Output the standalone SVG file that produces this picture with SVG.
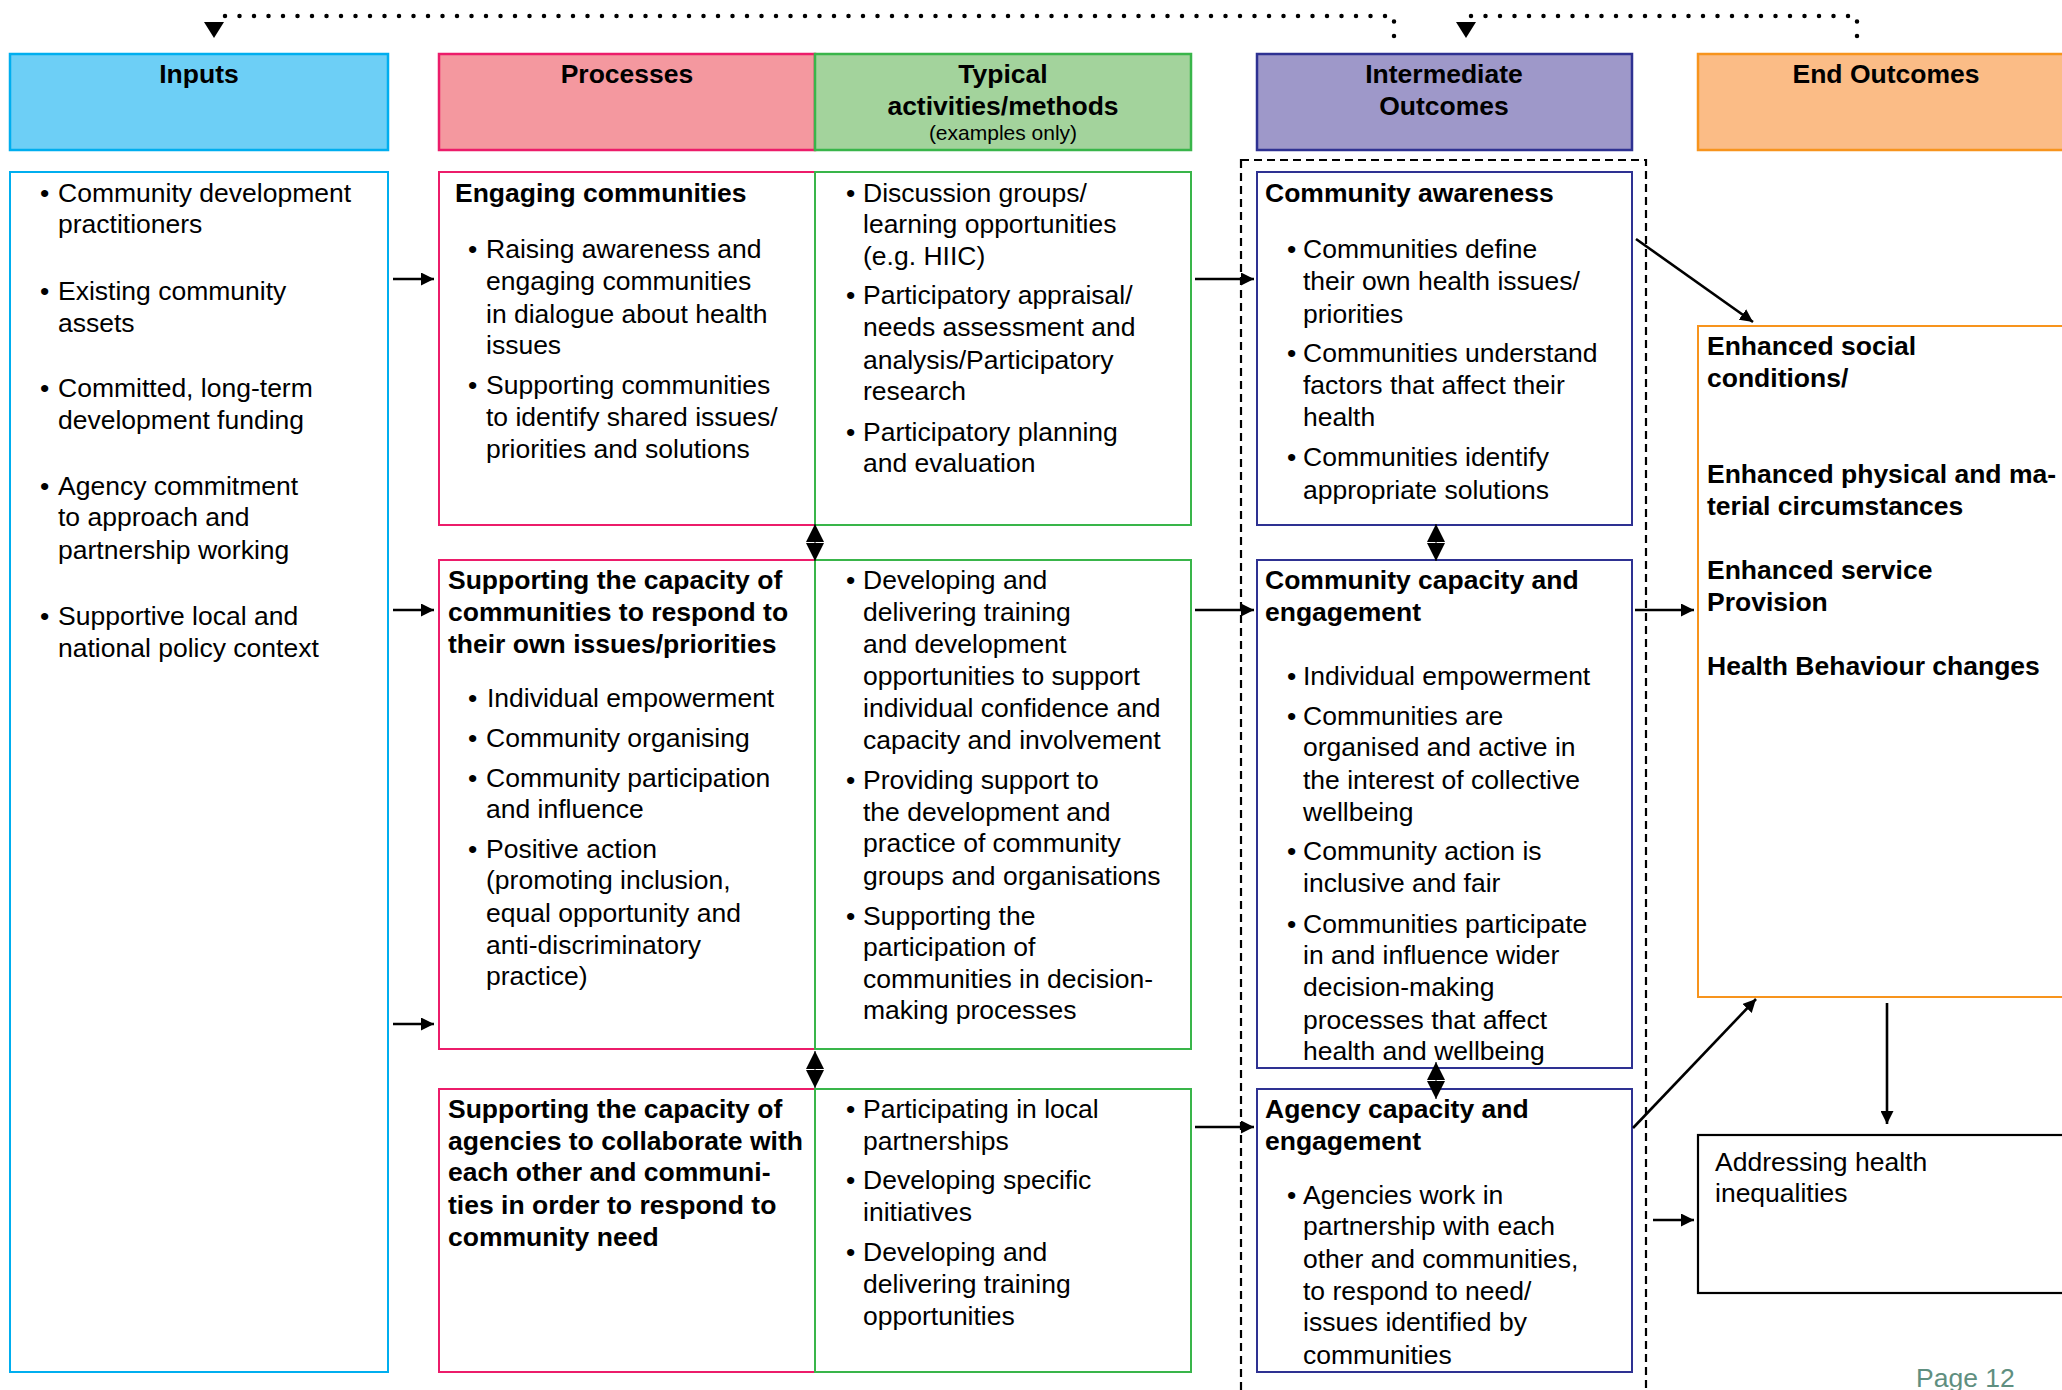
<svg xmlns="http://www.w3.org/2000/svg" width="2062" height="1390" viewBox="0 0 2062 1390">
<defs>
<style>
.t{font-family:"Liberation Sans",Arial,Helvetica,sans-serif;font-size:26.5px;fill:#000}
.b{font-weight:bold}
.c{text-anchor:middle}
.sm{font-size:21px}
.hb{stroke-width:2.5}
.bx{fill:#fff;stroke-width:2}
.in{stroke:#00aeef}
.pr{stroke:#ec1c6a}
.ty{stroke:#39b54a}
.im{stroke:#2e3192}
.eo{stroke:#f7941d}
.ln{fill:none;stroke:#000;stroke-width:2.6}
.dot{fill:none;stroke:#000;stroke-width:4.5;stroke-linecap:round;stroke-dasharray:0 14.5}
.dm{fill:none;stroke:#000;stroke-width:1}
</style>
<marker id="ah" viewBox="0 0 10 10" refX="10" refY="5" markerWidth="13" markerHeight="13" markerUnits="userSpaceOnUse" orient="auto"><path d="M0,0L10,5L0,10z" fill="#000"/></marker>
<marker id="dh" viewBox="0 0 10 10" refX="10" refY="5" markerWidth="18" markerHeight="19" markerUnits="userSpaceOnUse" orient="auto-start-reverse"><path d="M0,0L10,5L0,10z" fill="#000"/></marker>
</defs>
<rect width="2062" height="1390" fill="#fff"/>

<!-- headers -->
<g id="header-inputs">
<rect x="10" y="54" width="378" height="96" fill="#6dcff6" class="hb in"/>
<text class="t b c" x="199" y="83">Inputs</text>
</g>
<g id="header-processes">
<rect x="439" y="54" width="376" height="96" fill="#f4989f" class="hb pr"/>
<text class="t b c" x="627" y="83">Processes</text>
</g>
<g id="header-typical">
<rect x="815" y="54" width="376" height="96" fill="#a3d39c" class="hb ty"/>
<text class="t b c" x="1003" y="83">Typical</text>
<text class="t b c" x="1003" y="115">activities/methods</text>
<text class="t sm c" x="1003" y="140">(examples only)</text>
</g>
<g id="header-intermediate">
<rect x="1257" y="54" width="375" height="96" fill="#9e98c9" class="hb im"/>
<text class="t b c" x="1444" y="83">Intermediate</text>
<text class="t b c" x="1444" y="115">Outcomes</text>
</g>
<g id="header-end">
<rect x="1698" y="54" width="376" height="96" fill="#fbbc86" class="hb eo"/>
<text class="t b c" x="1886" y="83">End Outcomes</text>
</g>

<!-- dashed grouping frame -->
<g id="intermediate-frame">
<rect x="1241" y="160" width="405" height="1250" fill="none" stroke="#000" stroke-width="2.2" stroke-dasharray="8 5"/>
</g>

<!-- Inputs -->
<g id="node-inputs">
<rect x="10" y="172" width="378" height="1200" class="bx in"/>
<g class="t">
<text x="40" y="201.5">•</text>
<text x="58" y="201.5">Community development</text>
<text x="58" y="233">practitioners</text>
<text x="40" y="300">•</text>
<text x="58" y="300">Existing community</text>
<text x="58" y="331.7">assets</text>
<text x="40" y="397.4">•</text>
<text x="58" y="397.4">Committed, long-term</text>
<text x="58" y="429">development funding</text>
<text x="40" y="494.7">•</text>
<text x="58" y="494.7">Agency commitment</text>
<text x="58" y="526.3">to approach and</text>
<text x="58" y="559">partnership working</text>
<text x="40" y="625">•</text>
<text x="58" y="625">Supportive local and</text>
<text x="58" y="656.5">national policy context</text>
</g>
</g>

<!-- Processes 1 -->
<g id="node-proc1">
<rect x="439" y="172" width="376" height="353" class="bx pr"/>
<g class="t">
<text class="b" x="455" y="201.5">Engaging communities</text>
<text x="468" y="258">•</text>
<text x="486" y="258">Raising awareness and</text>
<text x="486" y="289.6">engaging communities</text>
<text x="486" y="322.5">in dialogue about health</text>
<text x="486" y="354">issues</text>
<text x="468" y="393.5">•</text>
<text x="486" y="393.5">Supporting communities</text>
<text x="486" y="426.4">to identify shared issues/</text>
<text x="486" y="458">priorities and solutions</text>
</g>
</g>

<!-- Typical 1 -->
<g id="node-typ1">
<rect x="815" y="172" width="376" height="353" class="bx ty"/>
<g class="t">
<text x="846" y="201.5">•</text>
<text x="863" y="201.5">Discussion groups/</text>
<text x="863" y="233">learning opportunities</text>
<text x="863" y="264.6">(e.g. HIIC)</text>
<text x="846" y="304">•</text>
<text x="863" y="304">Participatory appraisal/</text>
<text x="863" y="335.6">needs assessment and</text>
<text x="863" y="368.5">analysis/Participatory</text>
<text x="863" y="400">research</text>
<text x="846" y="441">•</text>
<text x="863" y="441">Participatory planning</text>
<text x="863" y="472.4">and evaluation</text>
</g>
</g>

<!-- Intermediate 1 -->
<g id="node-int1">
<rect x="1257" y="172" width="375" height="353" class="bx im"/>
<g class="t">
<text class="b" x="1265" y="201.5">Community awareness</text>
<text x="1287" y="258">•</text>
<text x="1303" y="258">Communities define</text>
<text x="1303" y="289.6">their own health issues/</text>
<text x="1303" y="322.5">priorities</text>
<text x="1287" y="362">•</text>
<text x="1303" y="362">Communities understand</text>
<text x="1303" y="393.5">factors that affect their</text>
<text x="1303" y="426.4">health</text>
<text x="1287" y="465.8">•</text>
<text x="1303" y="465.8">Communities identify</text>
<text x="1303" y="498.7">appropriate solutions</text>
</g>
</g>

<!-- Processes 2 -->
<g id="node-proc2">
<rect x="439" y="560" width="376" height="489" class="bx pr"/>
<g class="t">
<text class="b" x="448" y="589.4">Supporting the capacity of</text>
<text class="b" x="448" y="621">communities to respond to</text>
<text class="b" x="448" y="652.5">their own issues/priorities</text>
<text x="468" y="706.5">•</text>
<text x="487" y="706.5">Individual empowerment</text>
<text x="468" y="747">•</text>
<text x="486" y="747">Community organising</text>
<text x="468" y="786.7">•</text>
<text x="486" y="786.7">Community participation</text>
<text x="486" y="818">and influence</text>
<text x="468" y="857.7">•</text>
<text x="486" y="857.7">Positive action</text>
<text x="486" y="889">(promoting inclusion,</text>
<text x="486" y="922">equal opportunity and</text>
<text x="486" y="953.7">anti-discriminatory</text>
<text x="486" y="985">practice)</text>
</g>
</g>

<!-- Typical 2 -->
<g id="node-typ2">
<rect x="815" y="560" width="376" height="489" class="bx ty"/>
<g class="t">
<text x="846" y="589.4">•</text>
<text x="863" y="589.4">Developing and</text>
<text x="863" y="621">delivering training</text>
<text x="863" y="652.5">and development</text>
<text x="863" y="685.4">opportunities to support</text>
<text x="863" y="717">individual confidence and</text>
<text x="863" y="748.5">capacity and involvement</text>
<text x="846" y="789.3">•</text>
<text x="863" y="789.3">Providing support to</text>
<text x="863" y="821">the development and</text>
<text x="863" y="852.4">practice of community</text>
<text x="863" y="885.3">groups and organisations</text>
<text x="846" y="924.7">•</text>
<text x="863" y="924.7">Supporting the</text>
<text x="863" y="956.3">participation of</text>
<text x="863" y="988">communities in decision-</text>
<text x="863" y="1019.4">making processes</text>
</g>
</g>

<!-- Intermediate 2 -->
<g id="node-int2">
<rect x="1257" y="560" width="375" height="508" class="bx im"/>
<g class="t">
<text class="b" x="1265" y="589.4">Community capacity and</text>
<text class="b" x="1265" y="621">engagement</text>
<text x="1287" y="685.4">•</text>
<text x="1303" y="685.4">Individual empowerment</text>
<text x="1287" y="725">•</text>
<text x="1303" y="725">Communities are</text>
<text x="1303" y="756.4">organised and active in</text>
<text x="1303" y="789.3">the interest of collective</text>
<text x="1303" y="821">wellbeing</text>
<text x="1287" y="860.3">•</text>
<text x="1303" y="860.3">Community action is</text>
<text x="1303" y="892">inclusive and fair</text>
<text x="1287" y="932.6">•</text>
<text x="1303" y="932.6">Communities participate</text>
<text x="1303" y="964.2">in and influence wider</text>
<text x="1303" y="995.8">decision-making</text>
<text x="1303" y="1028.6">processes that affect</text>
<text x="1303" y="1060.2">health and wellbeing</text>
</g>
</g>

<!-- Processes 3 -->
<g id="node-proc3">
<rect x="439" y="1089" width="376" height="283" class="bx pr"/>
<g class="t b">
<text x="448" y="1118">Supporting the capacity of</text>
<text x="448" y="1149.6">agencies to collaborate with</text>
<text x="448" y="1181">each other and communi-</text>
<text x="448" y="1214">ties in order to respond to</text>
<text x="448" y="1245.6">community need</text>
</g>
</g>

<!-- Typical 3 -->
<g id="node-typ3">
<rect x="815" y="1089" width="376" height="283" class="bx ty"/>
<g class="t">
<text x="846" y="1118">•</text>
<text x="863" y="1118">Participating in local</text>
<text x="863" y="1149.6">partnerships</text>
<text x="846" y="1189">•</text>
<text x="863" y="1189">Developing specific</text>
<text x="863" y="1220.6">initiatives</text>
<text x="846" y="1261.4">•</text>
<text x="863" y="1261.4">Developing and</text>
<text x="863" y="1293">delivering training</text>
<text x="863" y="1324.5">opportunities</text>
</g>
</g>

<!-- Intermediate 3 -->
<g id="node-int3">
<rect x="1257" y="1089" width="375" height="283" class="bx im"/>
<g class="t">
<text class="b" x="1265" y="1118">Agency capacity and</text>
<text class="b" x="1265" y="1149.6">engagement</text>
<text x="1287" y="1203.5">•</text>
<text x="1303" y="1203.5">Agencies work in</text>
<text x="1303" y="1235">partnership with each</text>
<text x="1303" y="1268">other and communities,</text>
<text x="1303" y="1299.5">to respond to need/</text>
<text x="1303" y="1331">issues identified by</text>
<text x="1303" y="1364">communities</text>
</g>
</g>

<!-- End outcomes -->
<g id="node-end">
<rect x="1698" y="326" width="376" height="671" class="bx eo"/>
<g class="t b">
<text x="1707" y="355.3">Enhanced social</text>
<text x="1707" y="387">conditions/</text>
<text x="1707" y="483">Enhanced physical and ma-</text>
<text x="1707" y="514.5">terial circumstances</text>
<text x="1707" y="579">Enhanced service</text>
<text x="1707" y="610.5">Provision</text>
<text x="1707" y="675">Health Behaviour changes</text>
</g>
</g>

<!-- Addressing health inequalities -->
<g id="node-address">
<rect x="1698" y="1135" width="376" height="158" fill="#fff" stroke="#000" stroke-width="2.2"/>
<text class="t" x="1715" y="1170.6">Addressing health</text>
<text class="t" x="1715" y="1202">inequalities</text>
</g>

<!-- connectors -->
<g id="connectors">
<path class="dot" d="M1394,36 V16 H214"/>
<path class="dot" d="M1857,36 V16 H1466"/>
<polygon points="204,22 224,22 214,38" fill="#000"/>
<polygon points="1456,22 1476,22 1466,38" fill="#000"/>

<path class="ln" d="M393,279 H434" marker-end="url(#ah)"/>
<path class="ln" d="M393,610 H434" marker-end="url(#ah)"/>
<path class="ln" d="M393,1024 H434" marker-end="url(#ah)"/>

<path class="ln" d="M1195,279 H1254" marker-end="url(#ah)"/>
<path class="ln" d="M1195,610 H1254" marker-end="url(#ah)"/>
<path class="ln" d="M1195,1127 H1254" marker-end="url(#ah)"/>

<path class="ln" d="M1636,239 L1753,322" marker-end="url(#ah)"/>
<path class="ln" d="M1635,610 H1694" marker-end="url(#ah)"/>
<path class="ln" d="M1633,1128 L1756,999" marker-end="url(#ah)"/>
<path class="ln" d="M1887,1003 V1124" marker-end="url(#ah)"/>
<path class="ln" d="M1653,1220 H1694" marker-end="url(#ah)"/>

<path class="dm" d="M815,524 V561" marker-start="url(#dh)" marker-end="url(#dh)"/>
<path class="dm" d="M815,1051 V1088" marker-start="url(#dh)" marker-end="url(#dh)"/>
<path class="dm" d="M1436,524 V561" marker-start="url(#dh)" marker-end="url(#dh)"/>
<path class="dm" d="M1436,1062 V1099" marker-start="url(#dh)" marker-end="url(#dh)"/>
</g>

<g id="page-label">
<text class="t" x="1916" y="1387" style="fill:#5f8f80">Page 12</text>
</g>
</svg>
